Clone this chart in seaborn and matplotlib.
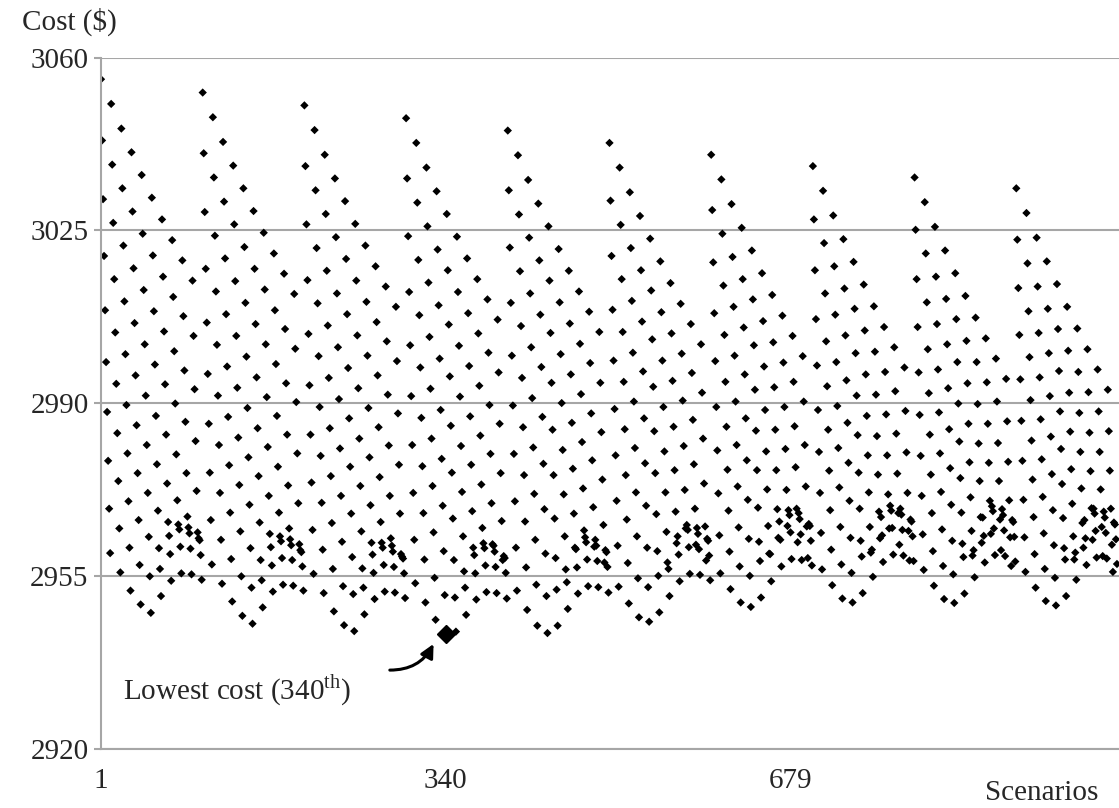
import numpy as np
import pandas as pd
import matplotlib
matplotlib.use("Agg")
import matplotlib.pyplot as plt
import seaborn as sns

sns.set_theme(style="white")
plt.rcParams['font.family'] = ['Liberation Serif', 'DejaVu Serif']
plt.rcParams['mathtext.fontset'] = 'custom'
plt.rcParams['mathtext.rm'] = 'Liberation Serif'

# Total cost ($) of every scenario, in blocks of 100 scenarios
cost_s001_100 = [
    3055.6, 3043.2, 3031.3, 3019.8, 3008.8, 2998.3, 2988.2, 2978.3, 2968.6, 2959.6,
    3050.6, 3038.3, 3026.5, 3015.1, 3004.3, 2993.9, 2983.9, 2974.2, 2964.6, 2955.7,
    3045.6, 3033.5, 3021.9, 3010.6, 2999.9, 2989.6, 2979.8, 2970.1, 2960.7, 2952.0,
    3040.8, 3028.8, 3017.3, 3006.2, 2995.6, 2985.5, 2975.8, 2966.3, 2957.2, 2949.2,
    3036.2, 3024.3, 3012.9, 3001.9, 2991.5, 2981.5, 2971.8, 2962.9, 2954.9, 2947.5,
    3031.6, 3019.9, 3008.6, 2997.8, 2987.4, 2977.6, 2968.2, 2960.6, 2956.4, 2950.9,
    3027.2, 3015.6, 3004.5, 2993.8, 2983.6, 2973.7, 2965.9, 2963.1, 2959.4, 2954.0,
    3023.0, 3011.5, 3000.5, 2989.9, 2979.6, 2970.3, 2965.4, 2964.4, 2960.9, 2955.5,
    3018.9, 3007.6, 2996.6, 2986.2, 2975.8, 2967.0, 2964.8, 2963.6, 2960.5, 2955.3,
    3014.8, 3003.6, 2992.8, 2982.3, 2972.2, 2963.8, 2962.6, 2962.2, 2959.2, 2954.2,
]
cost_s101_200 = [
    3052.9, 3040.6, 3028.7, 3017.2, 3006.3, 2995.9, 2985.8, 2975.9, 2966.3, 2957.3,
    3047.9, 3035.7, 3023.9, 3012.6, 3001.8, 2991.5, 2981.5, 2971.8, 2962.3, 2953.4,
    3042.9, 3030.8, 3019.3, 3008.0, 2997.4, 2987.2, 2977.4, 2967.8, 2958.4, 2949.8,
    3038.1, 3026.2, 3014.7, 3003.6, 2993.1, 2983.0, 2973.4, 2964.0, 2954.9, 2946.9,
    3033.5, 3021.6, 3010.3, 2999.4, 2989.0, 2979.0, 2969.4, 2960.6, 2952.6, 2945.3,
    3028.9, 3017.2, 3006.0, 2995.2, 2984.9, 2975.2, 2965.8, 2958.2, 2954.1, 2948.6,
    3024.5, 3013.0, 3001.9, 2991.2, 2981.1, 2971.2, 2963.5, 2960.8, 2957.1, 2951.8,
    3020.3, 3008.8, 2997.9, 2987.4, 2977.1, 2967.8, 2963.0, 2962.0, 2958.6, 2953.2,
    3016.2, 3005.0, 2994.0, 2983.6, 2973.3, 2964.6, 2962.4, 2961.2, 2958.2, 2953.0,
    3012.1, 3001.0, 2990.2, 2979.8, 2969.7, 2961.4, 2960.2, 2959.8, 2956.9, 2952.0,
]
cost_s201_300 = [
    3050.3, 3038.0, 3026.2, 3014.9, 3004.0, 2993.6, 2983.6, 2973.9, 2964.3, 2955.4,
    3045.3, 3033.1, 3021.4, 3010.2, 2999.5, 2989.2, 2979.3, 2969.8, 2960.3, 2951.5,
    3040.3, 3028.3, 3016.8, 3005.7, 2995.1, 2984.9, 2975.2, 2965.7, 2956.4, 2947.8,
    3035.5, 3023.6, 3012.2, 3001.3, 2990.8, 2980.8, 2971.2, 2961.9, 2952.9, 2945.0,
    3030.9, 3019.2, 3008.0, 2997.1, 2986.9, 2977.1, 2967.6, 2958.8, 2951.3, 2943.8,
    3026.3, 3014.8, 3003.7, 2993.0, 2982.8, 2973.2, 2964.0, 2956.5, 2952.6, 2947.2,
    3021.9, 3010.5, 2999.6, 2989.0, 2979.0, 2969.3, 2961.7, 2959.3, 2955.6, 2950.3,
    3017.7, 3006.4, 2995.6, 2985.1, 2975.0, 2965.9, 2961.7, 2960.7, 2957.2, 2951.8,
    3013.6, 3002.5, 2991.7, 2981.4, 2971.2, 2962.6, 2961.1, 2959.9, 2956.8, 2951.6,
    3009.5, 2998.5, 2987.9, 2977.5, 2967.6, 2959.4, 2958.9, 2958.5, 2955.5, 2950.5,
]
cost_s301_400 = [
    3047.7, 3035.5, 3023.8, 3012.5, 3001.7, 2991.4, 2981.5, 2971.8, 2962.3, 2953.5,
    3042.7, 3030.6, 3019.0, 3007.8, 2997.2, 2987.0, 2977.2, 2967.7, 2958.3, 2949.6,
    3037.7, 3025.8, 3014.4, 3003.4, 2992.9, 2982.8, 2973.2, 2963.8, 2954.6, 2946.1,
    3032.9, 3021.1, 3009.8, 2999.0, 2988.6, 2978.7, 2969.2, 2960.0, 2951.1, 2943.3,
    3028.3, 3016.9, 3005.9, 2995.4, 2985.4, 2975.9, 2966.6, 2958.2, 2950.6, 2943.7,
    3023.7, 3012.5, 3001.6, 2991.3, 2981.3, 2972.0, 2963.0, 2955.9, 2952.6, 2947.1,
    3019.3, 3008.2, 2997.5, 2987.3, 2977.5, 2968.1, 2960.7, 2959.2, 2955.5, 2950.2,
    3015.1, 3004.1, 2993.5, 2983.4, 2973.5, 2964.7, 2961.6, 2960.6, 2957.1, 2951.7,
    3011.0, 3000.2, 2989.6, 2979.7, 2969.7, 2961.4, 2961.1, 2959.9, 2956.8, 2951.5,
    3006.9, 2996.2, 2985.8, 2975.8, 2966.1, 2958.2, 2959.0, 2958.6, 2955.6, 2950.4,
]
cost_s401_500 = [
    3045.2, 3033.1, 3021.5, 3010.3, 2999.6, 2989.5, 2979.7, 2970.1, 2960.7, 2952.0,
    3040.2, 3028.2, 3016.7, 3005.6, 2995.1, 2985.1, 2975.4, 2966.0, 2956.7, 2948.1,
    3035.2, 3023.5, 3012.2, 3001.3, 2991.0, 2981.0, 2971.6, 2962.3, 2953.2, 2944.9,
    3030.4, 3018.9, 3007.9, 2997.3, 2987.2, 2977.7, 2968.5, 2959.5, 2950.9, 2943.4,
    3025.8, 3014.8, 3004.2, 2994.1, 2984.6, 2975.4, 2966.6, 2958.6, 2952.2, 2944.9,
    3021.2, 3010.4, 2999.9, 2990.0, 2980.5, 2971.5, 2963.0, 2956.3, 2953.7, 2948.3,
    3016.8, 3006.1, 2995.8, 2986.0, 2976.7, 2967.6, 2960.7, 2960.4, 2956.7, 2951.4,
    3012.6, 3002.0, 2991.8, 2982.1, 2972.7, 2964.2, 2962.8, 2961.8, 2958.3, 2952.9,
    3008.5, 2998.1, 2987.9, 2978.4, 2968.9, 2960.9, 2962.3, 2961.1, 2958.0, 2952.7,
    3004.4, 2994.1, 2984.1, 2974.5, 2965.3, 2957.7, 2960.2, 2959.8, 2956.8, 2951.6,
]
cost_s501_600 = [
    3042.7, 3031.0, 3019.8, 3008.9, 2998.6, 2988.8, 2979.4, 2970.2, 2961.1, 2952.8,
    3037.7, 3026.1, 3015.1, 3004.4, 2994.3, 2984.7, 2975.4, 2966.4, 2957.6, 2949.4,
    3032.7, 3021.4, 3010.7, 3000.2, 2990.3, 2980.9, 2971.9, 2963.0, 2954.5, 2946.6,
    3027.9, 3016.9, 3006.5, 2996.4, 2986.9, 2977.8, 2969.2, 2960.7, 2952.7, 2945.7,
    3023.3, 3012.8, 3002.9, 2993.3, 2984.3, 2975.8, 2967.5, 2960.0, 2955.0, 2947.6,
    3018.7, 3008.4, 2998.6, 2989.2, 2980.2, 2971.9, 2963.9, 2957.7, 2956.4, 2950.9,
    3014.3, 3004.1, 2994.5, 2985.2, 2976.4, 2968.0, 2961.6, 2963.0, 2959.3, 2953.9,
    3010.1, 3000.0, 2990.5, 2981.3, 2972.4, 2964.6, 2965.3, 2964.3, 2960.8, 2955.4,
    3006.0, 2996.1, 2986.6, 2977.6, 2968.6, 2961.3, 2964.7, 2963.5, 2960.4, 2955.2,
    3001.9, 2992.1, 2982.8, 2973.7, 2965.0, 2958.1, 2962.5, 2962.1, 2959.1, 2954.1,
]
cost_s601_700 = [
    3040.3, 3029.1, 3018.5, 3008.2, 2998.5, 2989.2, 2980.4, 2971.7, 2963.2, 2955.5,
    3035.3, 3024.3, 3013.8, 3003.8, 2994.3, 2985.2, 2976.5, 2968.2, 2959.9, 2952.3,
    3030.3, 3019.6, 3009.5, 2999.6, 2990.3, 2981.5, 2973.1, 2964.8, 2956.9, 2949.6,
    3025.5, 3015.1, 3005.3, 2995.8, 2986.9, 2978.4, 2970.4, 2962.5, 2955.0, 2948.7,
    3020.9, 3011.0, 3001.7, 2992.7, 2984.4, 2976.4, 2968.8, 2961.9, 2958.0, 2950.6,
    3016.3, 3006.6, 2997.4, 2988.6, 2980.2, 2972.5, 2965.1, 2959.5, 2959.4, 2953.9,
    3011.9, 3002.3, 2993.2, 2984.6, 2976.4, 2968.5, 2962.7, 2966.0, 2962.3, 2956.9,
    3007.7, 2998.2, 2989.2, 2980.7, 2972.4, 2965.1, 2968.3, 2967.3, 2963.8, 2958.4,
    3003.6, 2994.3, 2985.3, 2977.0, 2968.6, 2961.8, 2967.7, 2966.5, 2963.4, 2958.2,
    2999.5, 2990.3, 2981.5, 2973.1, 2965.0, 2958.6, 2965.5, 2965.1, 2962.1, 2957.1,
]
cost_s701_800 = [
    3038.0, 3027.2, 3016.9, 3007.0, 2997.6, 2988.6, 2980.1, 2971.8, 2963.7, 2956.3,
    3033.0, 3022.4, 3012.2, 3002.5, 2993.4, 2984.6, 2976.3, 2968.3, 2960.3, 2953.1,
    3028.0, 3017.7, 3007.9, 2998.3, 2989.4, 2980.9, 2972.9, 2964.9, 2957.3, 2950.4,
    3023.2, 3013.2, 3003.7, 2994.6, 2986.0, 2977.9, 2970.2, 2962.7, 2955.6, 2949.6,
    3018.6, 3009.1, 3000.1, 2991.5, 2983.5, 2975.9, 2968.6, 2962.1, 2958.9, 2951.5,
    3014.0, 3004.7, 2995.8, 2987.4, 2979.4, 2971.9, 2964.9, 2959.7, 2960.3, 2954.8,
    3009.6, 3000.4, 2991.7, 2983.3, 2975.5, 2968.0, 2962.6, 2966.9, 2963.2, 2957.8,
    3005.4, 2996.3, 2987.7, 2979.4, 2971.5, 2964.6, 2969.2, 2968.2, 2964.7, 2959.3,
    3001.3, 2992.4, 2983.8, 2975.7, 2967.7, 2961.3, 2968.6, 2967.4, 2964.3, 2959.1,
    2997.2, 2988.4, 2980.0, 2971.8, 2964.1, 2958.1, 2966.4, 2966.0, 2963.0, 2958.0,
]
cost_s801_900 = [
    3035.7, 3025.1, 3015.1, 3005.4, 2996.2, 2987.6, 2979.3, 2971.2, 2963.4, 2956.2,
    3030.7, 3020.3, 3010.4, 3000.9, 2992.0, 2983.6, 2975.5, 2967.7, 2960.0, 2953.0,
    3025.7, 3015.6, 3006.0, 2996.8, 2988.1, 2979.8, 2972.0, 2964.4, 2957.0, 2950.3,
    3020.9, 3011.1, 3001.9, 2993.0, 2984.7, 2976.8, 2969.4, 2962.1, 2955.3, 2949.5,
    3016.3, 3007.0, 2998.3, 2989.9, 2982.2, 2974.8, 2967.8, 2961.5, 2958.8, 2951.4,
    3011.7, 3002.6, 2994.0, 2985.8, 2978.0, 2970.9, 2964.1, 2959.1, 2960.2, 2954.7,
    3007.3, 2998.3, 2989.8, 2981.8, 2974.2, 2966.9, 2961.7, 2966.8, 2963.1, 2957.7,
    3003.1, 2994.2, 2985.8, 2977.9, 2970.2, 2963.5, 2969.1, 2968.1, 2964.6, 2959.2,
    2999.0, 2990.3, 2981.9, 2974.2, 2966.4, 2960.2, 2968.5, 2967.3, 2964.2, 2959.0,
    2994.9, 2986.3, 2978.1, 2970.3, 2962.8, 2957.0, 2966.3, 2965.9, 2962.9, 2957.9,
]
cost_s901_1000 = [
    3033.5, 3023.1, 3013.3, 3003.8, 2994.8, 2986.4, 2978.3, 2970.4, 2962.8, 2955.8,
    3028.5, 3018.3, 3008.6, 2999.3, 2990.6, 2982.4, 2974.5, 2966.9, 2959.4, 2952.6,
    3023.5, 3013.6, 3004.2, 2995.2, 2986.7, 2978.6, 2971.0, 2963.6, 2956.4, 2949.9,
    3018.7, 3009.1, 3000.1, 2991.4, 2983.2, 2975.6, 2968.3, 2961.2, 2954.6, 2949.0,
    3014.1, 3005.0, 2996.5, 2988.3, 2980.7, 2973.6, 2966.7, 2960.6, 2958.3, 2950.9,
    3009.5, 3000.6, 2992.1, 2984.2, 2976.6, 2969.6, 2963.0, 2958.3, 2959.7, 2954.2,
    3005.1, 2996.3, 2988.0, 2980.1, 2972.7, 2965.7, 2960.7, 2966.3, 2962.6, 2957.2,
    3000.9, 2992.2, 2984.0, 2976.2, 2968.7, 2962.3, 2968.6, 2967.6, 2964.1, 2958.7,
    2996.8, 2988.3, 2980.1, 2972.5, 2964.9, 2959.0, 2968.0, 2966.8, 2963.7, 2958.5,
    2992.7, 2984.3, 2976.3, 2968.6, 2961.3, 2955.8, 2965.8, 2965.4, 2962.4, 2957.4,
]

x_tick_values = [1, 340, 679]
y_tick_values = [2920, 2955, 2990, 3025, 3060]

costs = (cost_s001_100 + cost_s101_200 + cost_s201_300 + cost_s301_400 + cost_s401_500
         + cost_s501_600 + cost_s601_700 + cost_s701_800 + cost_s801_900 + cost_s901_1000)
df = pd.DataFrame({"scenario": np.arange(1, len(costs) + 1), "cost": costs})
best = df.loc[df["cost"].idxmin()]

fig = plt.figure(figsize=(11.19, 8.08), dpi=100)
ax = fig.add_axes([101 / 1119, (808 - 748.6) / 808, 1018 / 1119, 691.1 / 808])
grid_c = '#a6a6a6'
ax.set_ylim(2920, 3060)
ax.set_xlim(1, 1002)
ax.set_yticks(y_tick_values)
ax.yaxis.grid(True, color=grid_c, lw=1.5)
ax.set_axisbelow(True)
for side in ['top', 'right']:
    ax.spines[side].set_visible(False)
for side in ['left', 'bottom']:
    ax.spines[side].set_color(grid_c)
    ax.spines[side].set_linewidth(1.5)

sns.scatterplot(data=df, x="scenario", y="cost", marker='D', s=18, color='black',
                edgecolor='none', ax=ax, legend=False)

# highlight the cheapest scenario
ax.plot([best["scenario"]], [best["cost"]], marker='D', ms=9, color='black', zorder=4)

ax.set_xticks(x_tick_values)
ax.set_xticklabels([str(v) for v in x_tick_values])
ax.tick_params(axis='y', length=5, width=1.5, color=grid_c, labelsize=21, pad=4,
               direction='out', left=True)
ax.tick_params(axis='x', length=0, labelsize=21, pad=14)
ax.set_xlabel('')
ax.set_ylabel('')
fig.text(22 / 1119, 1 - 22 / 808, 'Cost ($)', fontsize=21, va='center', ha='left')
fig.text(1042 / 1119, 1 - 793 / 808, 'Scenarios', fontsize=21, va='center', ha='center')
ax.text(22.6, 2931.9, r'Lowest cost (%d$^{\mathrm{th}}$)' % int(best["scenario"]),
        fontsize=21, va='center', ha='left')
ax.annotate('', xy=(best["scenario"] - 12, best["cost"] - 2.1), xytext=(285, 2935.9),
            arrowprops=dict(arrowstyle='-|>', color='black', lw=2.2,
                            connectionstyle='arc3,rad=0.3',
                            shrinkA=0, shrinkB=0, mutation_scale=20))

fig.savefig('out.png', dpi=100)
